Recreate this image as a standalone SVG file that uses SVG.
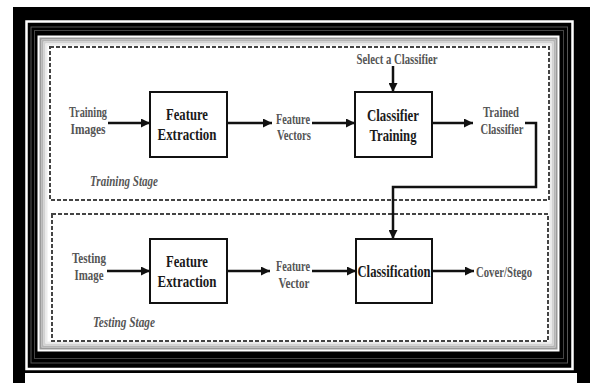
<svg xmlns="http://www.w3.org/2000/svg" width="590" height="383" viewBox="0 0 590 383">
<style>
.box{fill:#fff;stroke:#111;stroke-width:2}
.bt{font-family:"Liberation Serif",serif;font-weight:bold;font-size:17px;fill:#1a1a1a;text-anchor:middle}
.lb{font-family:"Liberation Serif",serif;font-weight:bold;font-size:14.5px;fill:#555;text-anchor:middle}
.st{font-family:"Liberation Serif",serif;font-weight:bold;font-style:italic;font-size:14px;fill:#555}
.ln{fill:none;stroke:#111;stroke-width:2.5}
.dash{fill:none;stroke:#444;stroke-width:2;stroke-dasharray:4 2}
</style>
<defs>
<marker id="ah" markerUnits="userSpaceOnUse" markerWidth="10" markerHeight="9" refX="9" refY="4.5" orient="auto">
<path d="M0,0 L9,4.5 L0,9 z" fill="#111"/>
</marker>
</defs>
<g id="frame">
<rect x="13" y="7" width="577" height="366" fill="#000"/>
<rect x="13" y="373" width="12" height="10" fill="#000"/>
<rect x="577" y="373" width="13" height="10" fill="#000"/>
<rect x="26.5" y="21.5" width="546" height="347.5" fill="none" stroke="#fff" stroke-width="2.5"/>
<rect x="31" y="27" width="536.5" height="336" fill="none" stroke="#555" stroke-width="1"/>
<rect x="34.5" y="30.5" width="529" height="328" fill="none" stroke="#444" stroke-width="1"/>
<rect x="38.5" y="36.5" width="520" height="314" fill="#fff" stroke="#fff" stroke-width="2"/>
<rect x="40.5" y="38.5" width="516" height="310" fill="none" stroke="#999" stroke-width="2"/>
<rect x="42.5" y="40.5" width="512" height="306" fill="none" stroke="#b4b4b4" stroke-width="2"/>
<rect x="44.5" y="42.5" width="508" height="302" fill="none" stroke="#d2d2d2" stroke-width="2"/>
<rect x="46.5" y="44.5" width="504" height="298" fill="none" stroke="#ececec" stroke-width="2"/>
</g>
<g id="training-stage">
<rect class="dash" x="50" y="47" width="499" height="153"/>
<text class="st" x="90" y="186" textLength="68" lengthAdjust="spacingAndGlyphs">Training Stage</text>
</g>
<g id="testing-stage">
<rect class="dash" x="52" y="214" width="496" height="127" stroke="#333"/>
<text class="st" x="93" y="327" textLength="62" lengthAdjust="spacingAndGlyphs">Testing Stage</text>
</g>
<g id="connectors">
<path class="ln" d="M108,123 H150" marker-end="url(#ah)"/>
<path class="ln" d="M227,123 H272" marker-end="url(#ah)"/>
<path class="ln" d="M312,123 H355" marker-end="url(#ah)"/>
<path class="ln" d="M393,66 V92" marker-end="url(#ah)"/>
<path class="ln" d="M432,123 H473" marker-end="url(#ah)"/>
<path class="ln" d="M525,123 H536 V187 H393 V239" marker-end="url(#ah)" stroke-width="2"/>
<path class="ln" d="M107,271 H150" marker-end="url(#ah)"/>
<path class="ln" d="M227,271 H270" marker-end="url(#ah)"/>
<path class="ln" d="M312,271 H356" marker-end="url(#ah)"/>
<path class="ln" d="M432,271 H474" marker-end="url(#ah)"/>
</g>
<g id="training-images">
<text class="lb" x="88" y="117" textLength="38" lengthAdjust="spacingAndGlyphs">Training</text>
<text class="lb" x="88" y="134" textLength="35" lengthAdjust="spacingAndGlyphs">Images</text>
</g>
<g id="feature-extraction-1">
<rect class="box" x="150" y="92" width="77" height="65"/>
<text class="bt" x="187" y="120" textLength="42" lengthAdjust="spacingAndGlyphs">Feature</text>
<text class="bt" x="187" y="140" textLength="59" lengthAdjust="spacingAndGlyphs">Extraction</text>
</g>
<g id="feature-vectors">
<text class="lb" x="293" y="124" textLength="34" lengthAdjust="spacingAndGlyphs">Feature</text>
<text class="lb" x="294" y="140" textLength="34" lengthAdjust="spacingAndGlyphs">Vectors</text>
</g>
<g id="select-classifier">
<text class="lb" x="397" y="64" textLength="81" lengthAdjust="spacingAndGlyphs" fill="#444">Select a Classifier</text>
</g>
<g id="classifier-training">
<rect class="box" x="355" y="92" width="77" height="65"/>
<text class="bt" x="393" y="121" textLength="52" lengthAdjust="spacingAndGlyphs">Classifier</text>
<text class="bt" x="393" y="141" textLength="47" lengthAdjust="spacingAndGlyphs">Training</text>
</g>
<g id="trained-classifier">
<text class="lb" x="501" y="117" textLength="36" lengthAdjust="spacingAndGlyphs">Trained</text>
<text class="lb" x="502" y="134" textLength="43" lengthAdjust="spacingAndGlyphs">Classifier</text>
</g>
<g id="testing-image">
<text class="lb" x="89" y="263" textLength="34" lengthAdjust="spacingAndGlyphs">Testing</text>
<text class="lb" x="89" y="280" textLength="29" lengthAdjust="spacingAndGlyphs">Image</text>
</g>
<g id="feature-extraction-2">
<rect class="box" x="150" y="239" width="77" height="64"/>
<text class="bt" x="187" y="267" textLength="42" lengthAdjust="spacingAndGlyphs">Feature</text>
<text class="bt" x="187" y="287" textLength="59" lengthAdjust="spacingAndGlyphs">Extraction</text>
</g>
<g id="feature-vector">
<text class="lb" x="293" y="271" textLength="34" lengthAdjust="spacingAndGlyphs">Feature</text>
<text class="lb" x="294" y="288" textLength="31" lengthAdjust="spacingAndGlyphs">Vector</text>
</g>
<g id="classification">
<rect class="box" x="356" y="239" width="76" height="64"/>
<text class="bt" x="394" y="277" textLength="73" lengthAdjust="spacingAndGlyphs">Classification</text>
</g>
<g id="cover-stego">
<text class="lb" x="504" y="277" textLength="56" lengthAdjust="spacingAndGlyphs">Cover/Stego</text>
</g>
</svg>
